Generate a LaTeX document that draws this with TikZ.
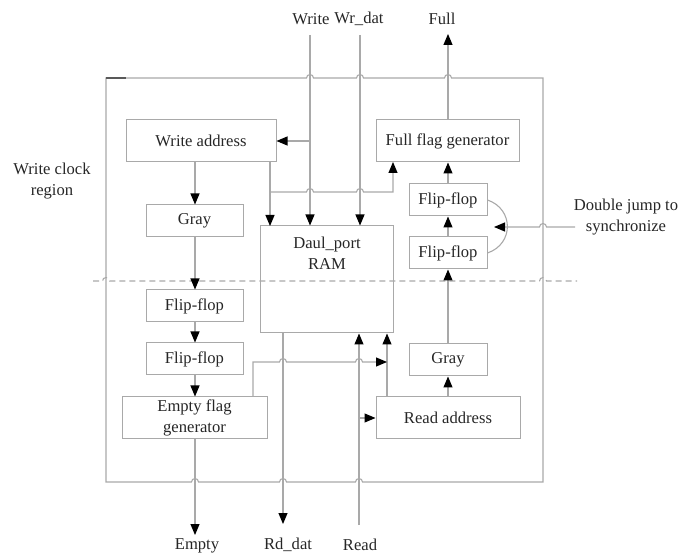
\documentclass[tikz,border=0pt]{standalone}
\usepackage{fontspec}
\setmainfont{Liberation Serif}
\usetikzlibrary{arrows.meta,calc}
\definecolor{ln}{HTML}{A9A9A9}
\definecolor{tx}{HTML}{262626}
\begin{document}
\begin{tikzpicture}[x=1pt,y=1pt,
  every node/.style={font=\fontsize{16.6}{21}\selectfont, text=tx},
  blk/.style={draw=ln, line width=1pt, inner sep=0pt, align=center},
  conn/.style={draw=ln, line width=1.1pt},
  arr/.style={conn, -{Triangle[length=11pt,width=9pt,color=black]}},
  lbl/.style={inner sep=0pt, align=center}]
\useasboundingbox (0,0) rectangle (682,554);
% boxes
\node[blk, minimum width=150pt, minimum height=42pt] (wa) at (201,413) {Write address};
\node[blk, minimum width=97pt, minimum height=32pt] (gl) at (194.5,333) {Gray};
\node[blk, minimum width=97pt, minimum height=32pt] (fl1) at (194.5,248) {Flip-flop};
\node[blk, minimum width=97pt, minimum height=32pt] (fl2) at (194.5,195) {Flip-flop};
\node[blk, minimum width=145pt, minimum height=42pt] (ef) at (194.5,136) {Empty flag\\generator};
\node[blk, minimum width=133pt, minimum height=107pt] (ram) at (326.5,274.5) {};
\node[lbl] (ramt) at (327,301) {Daul\_port\\RAM};
\node[blk, minimum width=143pt, minimum height=42pt] (ff) at (447.5,413) {Full flag generator};
\node[blk, minimum width=78pt, minimum height=32pt] (fr1) at (448,354) {Flip-flop};
\node[blk, minimum width=78pt, minimum height=32pt] (fr2) at (448,301) {Flip-flop};
\node[blk, minimum width=78pt, minimum height=32pt] (gr) at (448,194) {Gray};
\node[blk, minimum width=144pt, minimum height=42pt] (ra) at (448,136) {Read address};
% labels
\node[lbl] (lwrite) at (311,535) {Write};
\node[lbl] (lwrdat) at (359,535) {Wr\_dat};
\node[lbl] (lfull) at (442,535) {Full};
\node[lbl] (lclock) at (52,373) {Write clock\\region};
\node[lbl] (ldj) at (626,337) {Double jump to\\synchronize};
\node[lbl] (lempty) at (197,8) {Empty};
\node[lbl] (lrddat) at (288,9) {Rd\_dat};
\node[lbl] (lread) at (360,9) {Read};
% free ends
\coordinate (wtop) at (310,519);
\coordinate (dtop) at (360,519);
\coordinate (ftop) at (448,520);
\coordinate (ebot) at (195,19);
\coordinate (rdbot) at (283,30);
\coordinate (rdin) at (359,29);
\coordinate (djin) at (575,327);
% outer border with hops
\draw[conn] (106,476) -- (306.5,476) arc[start angle=180,end angle=0,radius=3.5pt]
  -- (356.5,476) arc[start angle=180,end angle=0,radius=3.5pt]
  -- (444.5,476) arc[start angle=180,end angle=0,radius=3.5pt]
  -- (543,476) -- (543,72)
  -- (362.5,72) arc[start angle=0,end angle=180,radius=3.5pt]
  -- (286.5,72) arc[start angle=0,end angle=180,radius=3.5pt]
  -- (198.5,72) arc[start angle=0,end angle=180,radius=3.5pt]
  -- (106,72) -- cycle;
\draw[draw=black!65, line width=1.6pt] (106,476) -- (126,476);
% dashed clock boundary
\draw[conn, dashed, dash pattern=on 6pt off 4pt] (93,273) -- (102.5,273) arc[start angle=180,end angle=0,radius=3.5pt]
  -- (539.5,273) arc[start angle=180,end angle=0,radius=3.5pt] -- (577,273);
% write inputs
\draw[arr] (wtop) -- (wtop |- ram.north);
\draw[arr] (dtop) -- (dtop |- ram.north);
\draw[arr] (310,413) -- (wa.east);
% write address to RAM and full flag
\draw[arr] (270,392) -- (270,328);
\draw[arr] (270,362) -- (306.5,362) arc[start angle=180,end angle=0,radius=3.5pt]
  -- (356.5,362) arc[start angle=180,end angle=0,radius=3.5pt]
  -- (393,362) -- (393,392);
% left chain
\draw[arr] (wa.south -| 195,0) -- (gl.north -| 195,0);
\draw[arr] (gl.south -| 195,0) -- (fl1.north -| 195,0);
\draw[arr] (fl1.south -| 195,0) -- (fl2.north -| 195,0);
\draw[arr] (fl2.south -| 195,0) -- (ef.north -| 195,0);
\draw[arr] (ef.south -| 195,0) -- (ebot);
% right chain
\draw[arr] (ff.north -| ftop) -- (ftop);
\draw[arr] (fr1.north) -- (ff.south -| fr1.north);
\draw[arr] (fr2.north) -- (fr1.south);
\draw[arr] (gr.north) -- (fr2.south);
\draw[arr] (ra.north -| gr.south) -- (gr.south);
% double jump
\draw[conn] (fr1.east) .. controls (514,345) and (514,310) .. (fr2.east);
\draw[arr] (djin) -- (546.5,327) arc[start angle=0,end angle=180,radius=3.5pt] -- (494,327);
% read side
\draw[arr] (ra.north -| 387,0) -- (ram.south -| 387,0);
\draw[arr] (rdin) -- (rdin |- ram.south);
\draw[arr] (359,136) -- (ra.west);
\draw[arr] (ram.south -| rdbot) -- (rdbot);
\draw[arr] (ef.north -| 253,0) -- (253,192) -- (279.5,192) arc[start angle=180,end angle=0,radius=3.5pt]
  -- (355.5,192) arc[start angle=180,end angle=0,radius=3.5pt] -- (387,192);
\end{tikzpicture}
\end{document}
